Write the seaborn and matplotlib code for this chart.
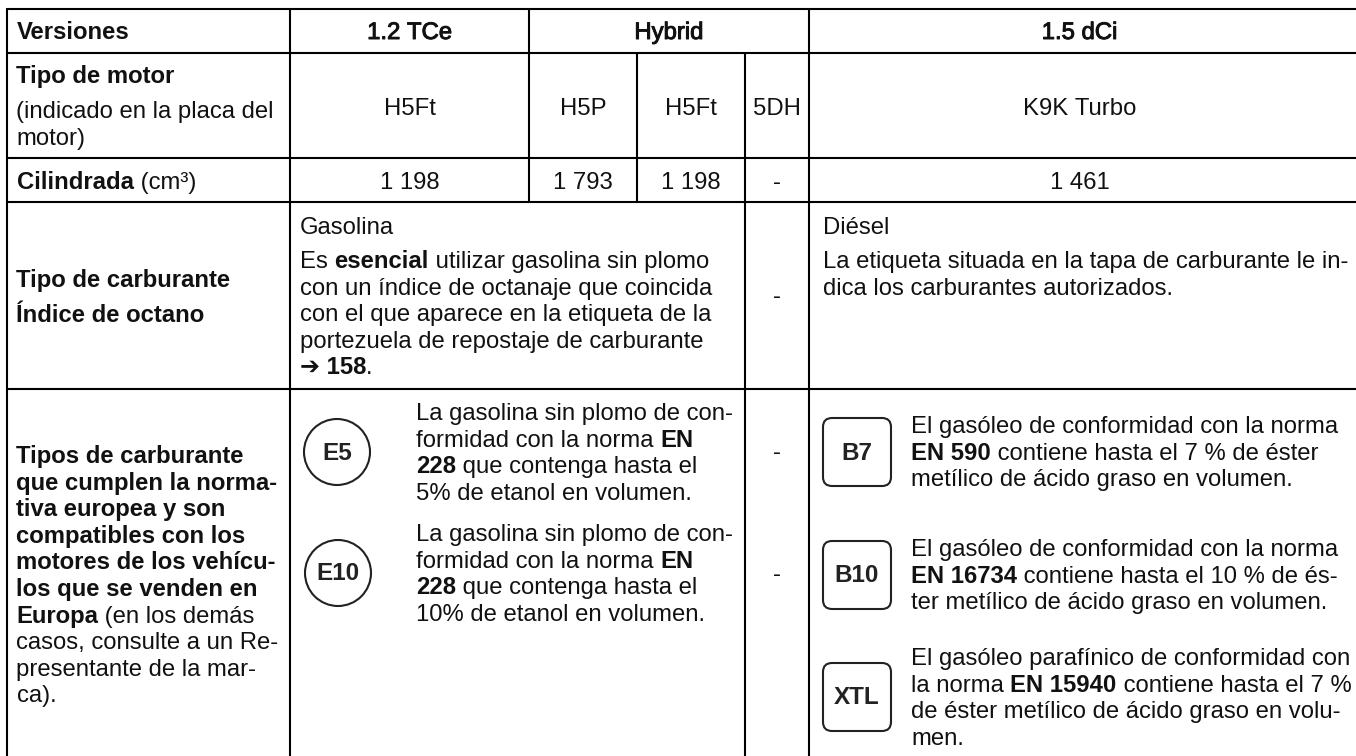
"""Ficha de carburantes: tabla reproducida con seaborn + matplotlib."""

import matplotlib
matplotlib.use("Agg")
import matplotlib.pyplot as plt
import matplotlib.patheffects as pe
from matplotlib.patches import Circle, FancyBboxPatch
import pandas as pd
import seaborn as sns

# ── Contenido ────────────────────────────────────────────────────────────────
# Each text is a list of lines, each line a list of (string, bold) runs.
HEADER_LABEL = "Versiones"
VERSIONS = ["1.2 TCe", "Hybrid", "1.5 dCi"]
ENGINE_TITLE = [("Tipo de motor", True)]
ENGINE_NOTE = [[("(indicado en la placa del", False)],
               [("motor)", False)]]
ENGINE_TYPES = ["H5Ft", "H5P", "H5Ft", "5DH", "K9K Turbo"]
DISPLACEMENT_LABEL = [("Cilindrada", True), (" (cm³)", False)]
DISPLACEMENTS = ["1 198", "1 793", "1 198", "-", "1 461"]
FUEL_LABELS = ["Tipo de carburante", "Índice de octano"]
PETROL_TITLE = "Gasolina"
PETROL_TEXT = [[("Es ", False), ("esencial", True), (" utilizar gasolina sin plomo", False)],
               [("con un índice de octanaje que coincida", False)],
               [("con el que aparece en la etiqueta de la", False)],
               [("portezuela de repostaje de carburante", False)],
               [("➔ 158", True), (".", False)]]
DIESEL_TITLE = "Diésel"
DIESEL_TEXT = [[("La etiqueta situada en la tapa de carburante le in-", False)],
               [("dica los carburantes autorizados.", False)]]
EURO_LABEL = [[("Tipos de carburante", True)],
              [("que cumplen la norma-", True)],
              [("tiva europea y son", True)],
              [("compatibles con los", True)],
              [("motores de los vehícu-", True)],
              [("los que se venden en", True)],
              [("Europa", True), (" (en los demás", False)],
              [("casos, consulte a un Re-", False)],
              [("presentante de la mar-", False)],
              [("ca).", False)]]
E5_TEXT = [[("La gasolina sin plomo de con-", False)],
           [("formidad con la norma ", False), ("EN", True)],
           [("228", True), (" que contenga hasta el", False)],
           [("5% de etanol en volumen.", False)]]
E10_TEXT = [[("La gasolina sin plomo de con-", False)],
            [("formidad con la norma ", False), ("EN", True)],
            [("228", True), (" que contenga hasta el", False)],
            [("10% de etanol en volumen.", False)]]
B7_TEXT = [[("El gasóleo de conformidad con la norma", False)],
           [("EN 590", True), (" contiene hasta el 7 % de éster", False)],
           [("metílico de ácido graso en volumen.", False)]]
B10_TEXT = [[("El gasóleo de conformidad con la norma", False)],
            [("EN 16734", True), (" contiene hasta el 10 % de és-", False)],
            [("ter metílico de ácido graso en volumen.", False)]]
XTL_TEXT = [[("El gasóleo parafínico de conformidad con", False)],
            [("la norma ", False), ("EN 15940", True), (" contiene hasta el 7 %", False)],
            [("de éster metílico de ácido graso en volu-", False)],
            [("men.", False)]]

# ── Estilo ───────────────────────────────────────────────────────────────────
sns.set_theme(style="white")
plt.rcParams["font.family"] = ["Liberation Sans", "DejaVu Sans"]
FS = 17.2
INK = "#111111"
LEAD = 26.6

X = [7, 290, 529, 637, 745, 809, 1357]
Y = [9, 53, 158, 202, 389, 757]

fig = plt.figure(figsize=(13.56, 7.56), dpi=100, facecolor="white")
ax = fig.add_axes([0, 0, 1, 1])

# ── Filetes de la tabla ──────────────────────────────────────────────────────
segments = []
for y in Y[:-1]:
    segments.append((X[0], y, X[-1], y))
segments += [(X[0], Y[0], X[0], Y[-1])]
segments += [(X[1], Y[0], X[1], Y[-1])]
segments += [(X[2], Y[0], X[2], Y[3]), (X[5], Y[0], X[5], Y[-1])]
segments += [(X[3], Y[1], X[3], Y[3]), (X[4], Y[1], X[4], Y[-1])]
rules = pd.DataFrame(
    [{"rule": i, "x": x, "y": y}
     for i, (x0, y0, x1, y1) in enumerate(segments)
     for x, y in ((x0, y0), (x1, y1))]
)
sns.lineplot(data=rules, x="x", y="y", units="rule", estimator=None, sort=False,
             color="#000000", linewidth=1.5, ax=ax, legend=False, zorder=3)
ax.set_xlim(0, 1356)
ax.set_ylim(756, 0)
ax.axis("off")

renderer = fig.canvas.get_renderer()


def draw_line(x, y, runs, ha="left", size=FS, stroke=False):
    """Draw one line of mixed regular and bold runs with its baseline at y."""
    pieces = [ax.text(0, y, s.replace(" ", "\u00a0"), fontsize=size, color=INK,
                      va="baseline", fontweight="bold" if bold else "normal")
              for s, bold in runs]
    widths = [t.get_window_extent(renderer).width for t in pieces]
    cur = x - sum(widths) / 2 if ha == "center" else x
    for t, w in zip(pieces, widths):
        t.set_x(cur)
        if stroke:
            t.set_path_effects([pe.withStroke(linewidth=0.7, foreground=INK)])
        cur += w


def draw_block(x, y, lines, size=FS):
    for i, runs in enumerate(lines):
        draw_line(x, y + i * LEAD, runs, size=size)


def badge(cx, cy, label, round_shape=False):
    if round_shape:
        ax.add_patch(Circle((cx, cy), 33, fc="white", ec="#222222", lw=1.5))
    else:
        ax.add_patch(FancyBboxPatch((cx - 28, cy - 28), 56, 56,
                                    boxstyle="round,pad=6,rounding_size=9",
                                    fc="white", ec="#222222", lw=1.5))
    ax.text(cx, cy + 1, label, fontsize=17.5, fontweight="bold", color="#222222",
            ha="center", va="center")


# ── Cabecera ─────────────────────────────────────────────────────────────────
draw_line(16.5, 39, [(HEADER_LABEL, True)])
for version, (x0, x1) in zip(VERSIONS, [(X[1], X[2]), (X[2], X[5]), (X[5], X[6] - 7)]):
    draw_line((x0 + x1) / 2, 39, [(version, False)], ha="center", stroke=True)

# ── Motor y cilindrada ───────────────────────────────────────────────────────
draw_line(16.5, 83, ENGINE_TITLE)
draw_block(16.5, 118, ENGINE_NOTE)
spans = [(X[1], X[2]), (X[2], X[3]), (X[3], X[4]), (X[4], X[5]), (X[5], X[6] - 7)]
for value, (x0, x1) in zip(ENGINE_TYPES, spans):
    draw_line((x0 + x1) / 2, 115, [(value, False)], ha="center")
draw_line(16.5, 189, DISPLACEMENT_LABEL)
for value, (x0, x1) in zip(DISPLACEMENTS, spans):
    draw_line((x0 + x1) / 2, 189, [(value, False)], ha="center")

# ── Carburante ───────────────────────────────────────────────────────────────
draw_line(16.5, 287, [(FUEL_LABELS[0], True)])
draw_line(16.5, 322, [(FUEL_LABELS[1], True)])
draw_line(300, 234, [(PETROL_TITLE, False)])
draw_block(300, 268, PETROL_TEXT)
draw_line((X[4] + X[5]) / 2, 303, [("-", False)], ha="center")
draw_line(823, 234, [(DIESEL_TITLE, False)])
draw_block(823, 268, DIESEL_TEXT)

# ── Tipos de carburante ──────────────────────────────────────────────────────
draw_block(16.5, 463, EURO_LABEL)
badge(337, 452, "E5", round_shape=True)
badge(338, 573, "E10", round_shape=True)
draw_block(416, 420, E5_TEXT)
draw_block(416, 541, E10_TEXT)
draw_line((X[4] + X[5]) / 2, 459, [("-", False)], ha="center")
draw_line((X[4] + X[5]) / 2, 581, [("-", False)], ha="center")
badge(857, 452, "B7")
badge(857, 575, "B10")
badge(857, 697, "XTL")
draw_block(911, 433, B7_TEXT)
draw_block(911, 556, B10_TEXT)
draw_block(911, 665, XTL_TEXT)

fig.savefig("out.png", dpi=100, facecolor="white")
